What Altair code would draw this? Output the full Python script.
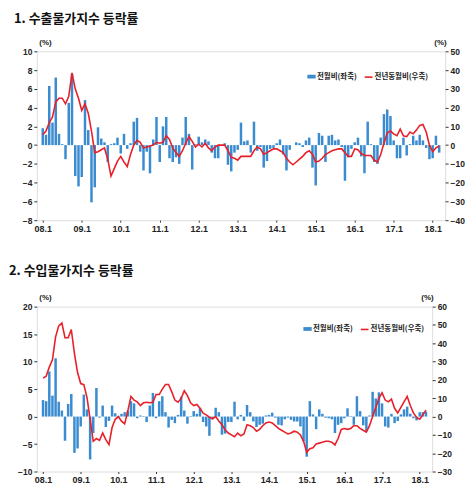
import altair as alt
import pandas as pd

# ---------------- data ----------------
tick_labels = ["08.1", "09.1", "10.1", "11.1", "12.1", "13.1",
               "14.1", "15.1", "16.1", "17.1", "18.1"]
n_months = 123  # 2008.1 - 2018.3

legend_bar = "전월비(좌축)"
legend_line = "전년동월비(우축)"

title1 = "1. 수출물가지수  등락률"
title2 = "2. 수입물가지수  등락률"

# export price index: month-over-month (%), left axis
export_mom = [
    1.8, 1.1, 6.3, 2.4, 7.2, 1.2, 0.1, -1.5, 4.5, 7.6, -3.3, -4.4,
    -3.4, 4.8, 1.6, -6.1, -4.5, 1.9, 0.7, 0.3, -1.8, 0.1, 0.2, 0.8,
    -0.9, 1.2, -0.4, 0.2, 2.5, 2.9, -0.7, -2.7, -0.7, -3.0, 0.6, 3.0,
    -1.8, 2.0, 3.0, -1.4, -1.8, -1.3, -2.0, 0.8, 3.0, 1.2, -2.6, 0.1,
    0.9, 0.3, 0.6, 0.4, -0.8, -1.4, -1.4, 0.0, 0.2, -2.1, -2.8, -0.8,
    -0.5, 2.4, 0.4, 0.5, -0.8, 2.5, -0.6, -0.2, -2.4, -1.7, -0.4, -0.3,
    0.2, 0.6, -1.0, -2.7, -0.5, 0.0, 0.3, 0.2, -0.2, 0.5, 0.8, -2.4,
    -4.3, 1.3, 1.0, -1.8, 1.0, 1.1, 0.5, 0.6, -0.2, -3.8, -1.3, -0.4,
    0.3, 0.8, -1.2, -3.0, 2.5, 0.1, -1.8, -2.0, 0.8, 3.3, 3.8, 3.1,
    0.5, -1.4, -1.4, 0.8, -1.1, 0.1, 1.0, 0.5, 1.1, 0.5, -0.3, -1.5,
    -1.4, 1.0, -0.8,
]
# export price index: year-over-year (%), right axis
export_yoy = [
    5.5, 7.5, 12, 15, 23, 25, 25, 22, 26, 38.5, 30, 25,
    18.5, 22, 17, 7.5, -4, -3.5, -2.5, -1.5, -7.5, -16.5, -12.5, -8.5,
    -6, -9, -11.5, -5, 0, 2.5, 1.5, -1.5, -1, -0.5, 0, 1.5,
    1, 1.5, 5, 3, -1.5, -4, -6, -3, 1, 4.5, 2, -1,
    0.5, -1, 1, -1.5, -3, -1, 0, 0, 0, -3, -6.5, -7,
    -8, -6, -6, -6, -6, -3, -1, -2, -5, -4, -3, -2,
    -2, -3, -4, -7, -9, -10.5, -9, -7.5, -6, -4, -3, -5,
    -9, -8.5, -7, -5, -4, -3, -2.5, -2, -2, -4, -6, -6,
    -2, -2.5, -4.5, -5.5, -5.5, -5.5, -8, -9, -5, 1, 6.5, 7.5,
    6, 5, 8.5, 5, 4.5, 7, 6, 8, 10.5, 11, 7, 0,
    -3.5, -1.5, -0.5,
]
# import price index: month-over-month (%), left axis
import_mom = [
    3.0, 2.8, 8.2, 3.8, 10.6, 2.7, 1.1, -4.4, 2.3, 4.1, -6.6, -5.8,
    -1.8, 4.0, 1.3, -7.8, -3.0, 5.2, -0.2, 2.0, -1.9, -0.8, 2.0, 0.6,
    0.1, 0.5, 0.8, 1.0, 2.8, 2.4, -0.3, 0.2, 0.1, -1.0, 2.0, 4.3,
    -0.3, 2.8, 3.7, 0.8, -2.0, -0.6, -1.2, 0.3, 3.6, 1.1, -1.3, 0.1,
    1.0, 0.5, 1.6, -1.0, -1.8, -3.5, -0.5, 1.6, 0.8, -3.3, -3.1, -1.0,
    -1.0, 2.7, -0.5, 0.3, -0.8, 2.1, 0.8, -0.9, -1.9, -1.5, -1.3, 0.2,
    0.3, 0.7, -0.2, -1.5, -1.6, -0.5, -0.2, -0.6, -0.9, -0.9, -1.8, -4.5,
    -7.3, 2.8, 0.4, -2.3, 1.3, 0.5, -0.2, -0.3, -0.5, -3.0, -1.5, -1.2,
    -0.3, 1.5, 0.1, -1.5, 3.7, 1.0, -1.6, -2.7, 0.2, 4.5, 3.3, 4.4,
    2.4, -1.8, -2.0, 0.5, -1.2, -0.8, 0.4, 1.3, 1.8, 0.5, -0.3, -0.7,
    0.8, 0.8, 0.9,
]
# import price index: year-over-year (%), right axis
import_yoy = [
    21, 22, 27, 31, 43.5, 49.5, 51, 43, 43, 47.5, 34.5, 24,
    18, 17.4, 10.5, -1.5, -13.5, -12, -13, -9, -12.6, -15.3, -6, -1.5,
    0, -2.5, -4, 3, 11, 9, 8, 6, 7.5, 7.8, 7.5, 7.8,
    12, 12, 15, 17.5, 17.5, 13.5, 9, 7.8, 9.9, 14.1, 11.4, 7.5,
    6, 6.6, 4.5, 1.8, 0.9, -0.3, -1.2, 0, -2.4, -4.5, -7.2, -9,
    -10, -11, -9, -10.5, -9.5, -4.5, -5, -6, -8, -7, -5, -3.5,
    -3, -3.5, -5, -6.5, -7.5, -8.5, -9.5, -9, -8, -8.5, -10, -13.5,
    -19.5, -17.5, -17, -15, -14.5, -14, -13.5, -13.5, -14, -15.5, -12, -7,
    -6.5, -7, -6.5, -5, -5, -6.5, -7.5, -8.5, -5, 0, 5, 10,
    13, 9, 8, 9.5, 4.5, 2, 5, 8, 11, 6, 2, -0.5,
    -1.5, 1, 3.5,
]

# ---------------- styling ----------------
BLUE = "#3a8bcf"
RED = "#e8202a"
NUM_FONT = "Liberation Sans"
KR_FONT = "Noto Sans CJK KR"

tick_vals = [12 * i for i in range(len(tick_labels))]
label_expr = "[" + ",".join("'%s'" % t for t in tick_labels) + "][round(datum.value/12)]"


def panel(mom, yoy, left_dom, left_vals, right_dom, right_vals, width, height,
          xdom, title, title_dx, title_offset, leg_bar_x, leg_line_x, leg_y):
    df = pd.DataFrame({
        "m": list(range(n_months)),
        "mom": mom,
        "yoy": yoy,
        "s_bar": legend_bar,
        "s_line": legend_line,
    })
    base = alt.Chart(df)
    x = alt.X(
        "m:Q",
        scale=alt.Scale(domain=xdom, nice=False, zero=False),
        axis=alt.Axis(values=tick_vals, labelExpr=label_expr, title=None,
                      grid=False, domain=False, tickSize=2,
                      labelPadding=2, labelFontSize=9, labelFontWeight="bold",
                      labelFont=NUM_FONT, labelColor="#222", tickColor="#333"),
    )
    bars = base.mark_bar(size=2.5).encode(
        x=x,
        y=alt.Y("mom:Q",
                scale=alt.Scale(domain=left_dom, nice=False, zero=False),
                axis=alt.Axis(orient="left", values=left_vals, title="(%)",
                              titleAngle=0, titleX=2, titleY=-5,
                              titleAlign="left", titleBaseline="bottom",
                              titleFontSize=8, titleFont=NUM_FONT,
                              titleFontWeight="bold", titleColor="#222",
                              grid=False, domain=False, tickSize=3,
                              labelPadding=2, labelFontSize=8.5,
                              labelFontWeight="bold", labelFont=NUM_FONT,
                              labelColor="#222", tickColor="#333")),
        fill=alt.Fill("s_bar:N",
                      scale=alt.Scale(domain=[legend_bar], range=[BLUE]),
                      legend=alt.Legend(orient="none", legendX=leg_bar_x,
                                        legendY=leg_y, title=None,
                                        symbolType="M-1,-0.45H1V0.45H-1Z",
                                        symbolSize=70, symbolStrokeWidth=0,
                                        labelFont=KR_FONT, labelFontSize=7.5,
                                        labelFontWeight="bold",
                                        labelColor="#222", labelOffset=1,
                                        padding=0)),
    )
    line = base.mark_line(strokeWidth=1.6).encode(
        x=x,
        y=alt.Y("yoy:Q",
                scale=alt.Scale(domain=right_dom, nice=False, zero=False),
                axis=alt.Axis(orient="right", values=right_vals, title="(%)",
                              titleAngle=0, titleX=1, titleY=-5,
                              titleAlign="right", titleBaseline="bottom",
                              titleFontSize=8, titleFont=NUM_FONT,
                              titleFontWeight="bold", titleColor="#222",
                              grid=False, domain=False, tickSize=3,
                              labelPadding=2, labelFontSize=8.5,
                              labelFontWeight="bold", labelFont=NUM_FONT,
                              labelColor="#222", tickColor="#333")),
        stroke=alt.Stroke("s_line:N",
                          scale=alt.Scale(domain=[legend_line], range=[RED]),
                          legend=alt.Legend(orient="none", legendX=leg_line_x,
                                            legendY=leg_y, title=None,
                                            symbolType="stroke", symbolSize=60,
                                            symbolStrokeWidth=1.6,
                                            labelFont=KR_FONT,
                                            labelFontSize=7.5,
                                            labelFontWeight="bold",
                                            labelColor="#222", labelOffset=1,
                                            padding=0)),
    )
    return alt.layer(bars, line).resolve_scale(y="independent").properties(
        width=width, height=height,
        title=alt.TitleParams(title, anchor="start", frame="group", dx=title_dx,
                              offset=title_offset, fontSize=13, font=KR_FONT,
                              fontWeight="bold", color="#111"),
    )


p1 = panel(export_mom, export_yoy, [-8, 10], list(range(-8, 11, 2)),
           [-40, 50], list(range(-40, 51, 10)), 411, 170, [-0.3, 122.3],
           title1, -23, 12, 272, 329, 21)
p2 = panel(import_mom, import_yoy, [-10, 20], list(range(-10, 21, 5)),
           [-30, 60], list(range(-30, 61, 10)), 398, 166, [-0.4, 122.4],
           title2, -28, 16, 268, 325, 18)

chart = alt.concat(p1, p2, columns=1, spacing=30).properties(
    align="none", padding={"top": 3, "left": 0, "right": 0, "bottom": 0}
).resolve_scale(
    fill="independent", stroke="independent"
).resolve_legend(
    fill="independent", stroke="independent"
).configure_view(
    stroke="#333", strokeWidth=1.5
).configure(background="white")

chart.save("out.html", embed_options={"renderer": "svg", "actions": False})
